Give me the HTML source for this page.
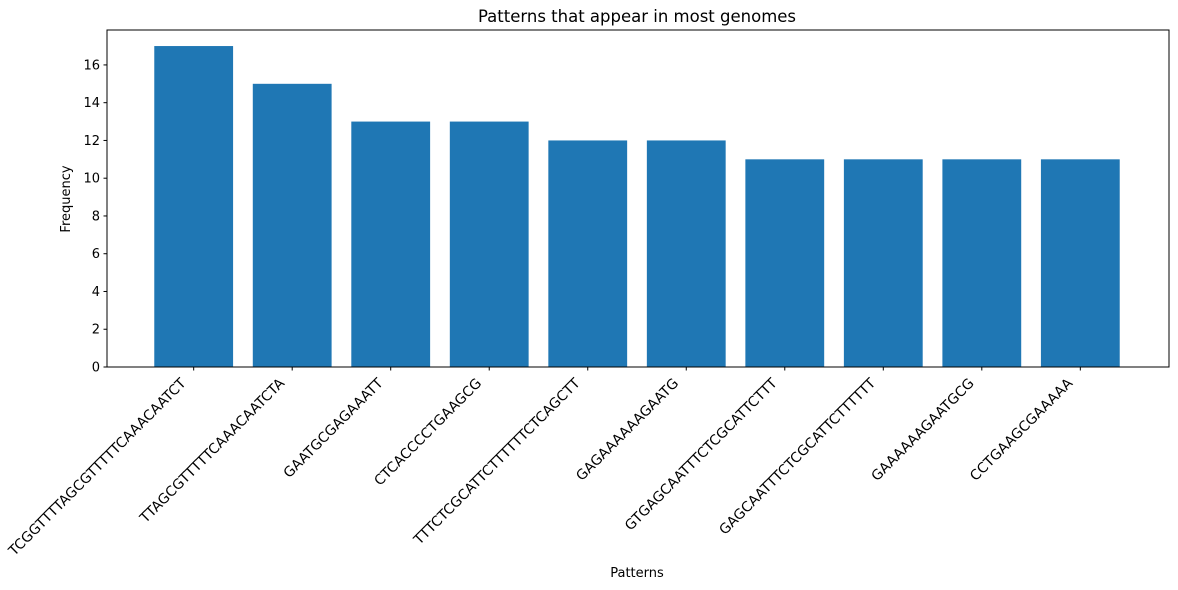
<!DOCTYPE html>
<html><head><meta charset="utf-8"><style>
body{margin:0;background:#fff}
svg{display:block;font-family:"DejaVu Sans","Liberation Sans",sans-serif}
</style></head><body>
<svg id="chart" width="1178" height="590">
<text x="637" y="22" font-size="16.5" text-anchor="middle">Patterns that appear in most genomes</text>
<text x="637" y="577" font-size="13" text-anchor="middle">Patterns</text>
<text transform="translate(70,199) rotate(-90)" font-size="13" text-anchor="middle">Frequency</text>
<g id="bars"></g><g id="yticks"></g><g id="xticks"></g>
<rect x="107" y="30" width="1062" height="337" fill="none" stroke="#000" stroke-width="1"/>
</svg>
<script>
const categories=["TCGGTTTTAGCGTTTTTCAAACAATCT","TTAGCGTTTTTCAAACAATCTA","GAATGCGAGAAATT","CTCACCCCTGAAGCG","TTTCTCGCATTCTTTTTTCTCAGCTT","GAGAAAAAAGAATG","GTGAGCAATTTCTCGCATTCTTT","GAGCAATTTCTCGCATTCTTTTTT","GAAAAAAGAATGCG","CCTGAAGCGAAAAA"];
const values=[17,15,13,13,12,12,11,11,11,11];
const yTicks=[0,2,4,6,8,10,12,14,16];
const NS="http://www.w3.org/2000/svg";
const L=107,R=1169,T=30,B=367;
const n=categories.length;
const xmin=-0.4-0.05*(n-0.2),xmax=n-1+0.4+0.05*(n-0.2);
const ymax=Math.max(...values)*1.05;
const xs=v=>L-1+(v-xmin)/(xmax-xmin)*(R-L);
const ys=v=>B-v/ymax*(B-T);
function mk(t,a,p){const e=document.createElementNS(NS,t);for(const k in a)e.setAttribute(k,a[k]);p.appendChild(e);return e;}
const gb=document.getElementById('bars'),gy=document.getElementById('yticks'),gx=document.getElementById('xticks');
values.forEach((v,i)=>{
 const r=mk('rect',{x:xs(i-0.4),y:ys(v),width:xs(i+0.4)-xs(i-0.4),height:B-ys(v),fill:'#1f77b4'},gb);
 
 
});
yTicks.forEach(t=>{
 const y=ys(t);
 const l=mk('line',{x1:L-3.5,x2:L,y1:y,y2:y,stroke:'#000'},gy);
 
 
 const tx=mk('text',{x:L-7,y:y+4.5,'font-size':13,'text-anchor':'end'},gy);
 tx.textContent=t;
 
 
});
categories.forEach((c,i)=>{
 const x=xs(i);
 const l=mk('line',{x1:x,x2:x,y1:B,y2:B+3.5,stroke:'#000'},gx);
 
 
 const bx=x-7,by=B+17;
 const tx=mk('text',{x:bx,y:by,'font-size':13.9,'text-anchor':'end',transform:`rotate(-45 ${bx} ${by})`},gx);
 tx.textContent=c;
 
 
});
</script>
</body></html>
